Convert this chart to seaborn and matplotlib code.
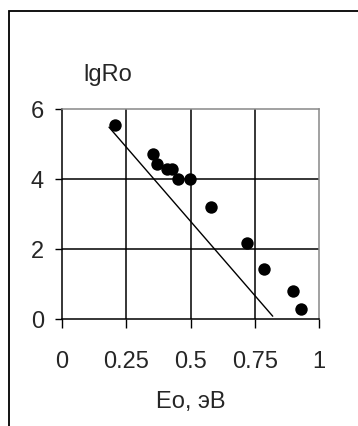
import matplotlib
matplotlib.use("Agg")
import matplotlib.pyplot as plt
import seaborn as sns
import pandas as pd
from matplotlib.patches import Rectangle

# Data
eo = [0.206, 0.355, 0.368, 0.407, 0.427, 0.450, 0.499, 0.580, 0.719, 0.786, 0.900, 0.930]
lgro = [5.54, 4.71, 4.43, 4.28, 4.28, 4.00, 4.00, 3.21, 2.17, 1.42, 0.80, 0.29]
trend_x = [0.183, 0.820]
trend_y = [5.48, 0.08]
x_ticks = [0, 0.25, 0.5, 0.75, 1]
x_tick_labels = ["0", "0.25", "0.5", "0.75", "1"]
y_ticks = [0, 2, 4, 6]
y_tick_labels = ["0", "2", "4", "6"]

sns.set_theme(style="white")
plt.rcParams['font.family'] = ['Liberation Sans', 'DejaVu Sans']

FS = 17

fig = plt.figure(figsize=(3.58, 4.26), dpi=100)
ax = fig.add_axes([62/358, 107/426, 257/358, 210/426])

pts = pd.DataFrame({"eo": eo, "lgro": lgro})
line = pd.DataFrame({"x": trend_x, "y": trend_y})

for v in [0.25, 0.5, 0.75]:
    ax.axvline(v, color="black", lw=1.1, zorder=1)
for v in [2, 4]:
    ax.axhline(v, color="black", lw=1.1, zorder=1)

sns.lineplot(data=line, x="x", y="y", ax=ax, color="black", lw=1.0, zorder=2)
sns.scatterplot(data=pts, x="eo", y="lgro", ax=ax, color="black", s=80,
                edgecolor="black", linewidth=0, zorder=3)

ax.set_xlim(0, 1)
ax.set_ylim(0, 6)
ax.set_xticks(x_ticks)
ax.set_xticklabels(x_tick_labels)
ax.set_yticks(y_ticks)
ax.set_yticklabels(y_tick_labels)
ax.tick_params(axis="y", direction="out", length=5, width=1, color="black",
               pad=8, labelsize=FS, left=True)
ax.tick_params(axis="x", direction="out", length=6.5, width=1, color="black",
               pad=16.5, labelsize=FS, bottom=True)
ax.set_xlabel("Eo, эВ", fontsize=FS, labelpad=13)
ax.set_ylabel("")

for s in ["left", "bottom"]:
    ax.spines[s].set_color("black")
    ax.spines[s].set_linewidth(1.1)
for s in ["top", "right"]:
    ax.spines[s].set_color("#888888")
    ax.spines[s].set_linewidth(1.1)

fig.text(108/358, 1 - 75.5/426, "lgRo", ha="center", va="center", fontsize=FS)

fig.patches.append(Rectangle((9/358, -0.1), 1.2, (426 - 11)/426 + 0.1,
                             transform=fig.transFigure, fill=False,
                             edgecolor="black", lw=1.3, clip_on=False))

fig.savefig("out.png", dpi=100)
